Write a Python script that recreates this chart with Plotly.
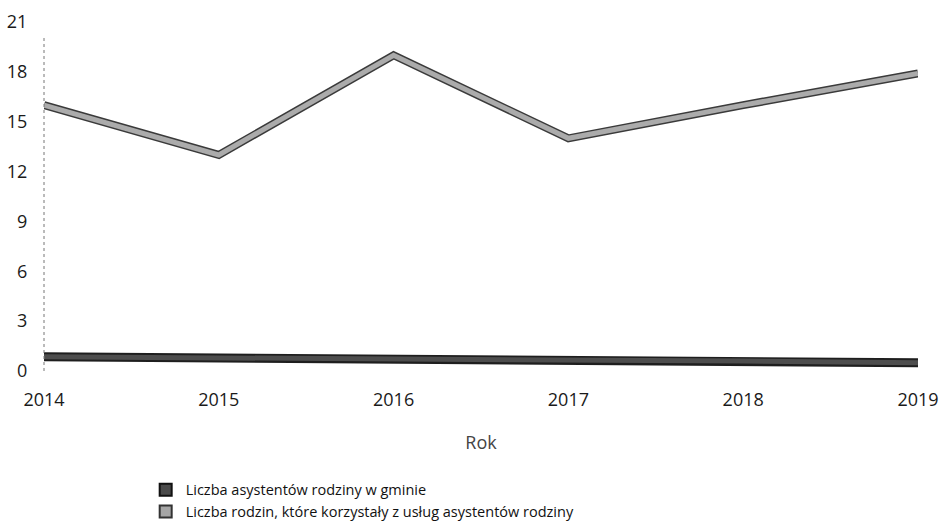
import plotly.graph_objects as go

years = [2014, 2015, 2016, 2017, 2018, 2019]
asystenci = [0.85, 0.8, 0.75, 0.7, 0.6, 0.5]
rodziny = [16, 13, 19, 14, 16, 17.9]
y_ticks = [0, 3, 6, 9, 12, 15, 18, 21]

name_a = "Liczba asystentów rodziny w gminie"
name_r = "Liczba rodzin, które korzystały z usług asystentów rodziny"

fig = go.Figure()

# dark series
fig.add_trace(go.Scatter(x=years, y=asystenci, mode="lines",
                         line=dict(color="#1e1e1e", width=9),
                         showlegend=False, hoverinfo="skip"))
fig.add_trace(go.Scatter(x=years, y=asystenci, mode="lines",
                         line=dict(color="#4d4d4d", width=5),
                         showlegend=False))

# light series with dark outline
fig.add_trace(go.Scatter(x=years, y=rodziny, mode="lines",
                         line=dict(color="#3a3a3a", width=8),
                         showlegend=False, hoverinfo="skip"))
fig.add_trace(go.Scatter(x=years, y=rodziny, mode="lines",
                         line=dict(color="#ababab", width=5),
                         showlegend=False))

# legend entries as square swatches
fig.add_trace(go.Scatter(x=[None], y=[None], mode="markers", name=name_a,
                         marker=dict(symbol="square", size=11, color="#4a4a4a",
                                     line=dict(color="#111111", width=1))))
fig.add_trace(go.Scatter(x=[None], y=[None], mode="markers", name=name_r,
                         marker=dict(symbol="square", size=11, color="#a6a6a6",
                                     line=dict(color="#333333", width=1))))

# dotted axis lines
fig.add_shape(type="line", xref="paper", yref="y", x0=0, x1=0, y0=0, y1=20.2,
              line=dict(color="#777777", width=1, dash="dot"))
fig.add_shape(type="line", xref="x", yref="y", x0=2014, x1=2019, y0=-0.1, y1=-0.1,
              line=dict(color="#888888", width=1, dash="dot"))

fig.update_layout(
    width=946, height=530,
    margin=dict(l=44, r=28, t=22, b=159, autoexpand=False),
    paper_bgcolor="white", plot_bgcolor="white",
    font=dict(family="Open Sans", size=17, color="#1a1a1a"),
    legend=dict(x=0.154, y=0.106, xref="container", yref="container",
                xanchor="left", yanchor="top",
                orientation="v", font=dict(size=14.5, color="#111111"),
                itemsizing="constant", tracegroupgap=0, itemwidth=30,
                bgcolor="rgba(0,0,0,0)"),
    xaxis=dict(range=[2014, 2019], tickvals=years, ticktext=[str(y) for y in years],
               showgrid=False, zeroline=False, showline=False, automargin=False,
               ticks="outside", ticklen=12, tickcolor="rgba(0,0,0,0)",
               tickfont=dict(size=18),
               title=dict(text="Rok", font=dict(size=18, color="#444444"), standoff=26)),
    yaxis=dict(range=[0, 21], tickvals=y_ticks, showgrid=False, zeroline=False,
               showline=False, ticks="outside", ticklen=12, automargin=False,
               tickcolor="rgba(0,0,0,0)", tickfont=dict(size=18)),
)

fig.write_html("out.html")
